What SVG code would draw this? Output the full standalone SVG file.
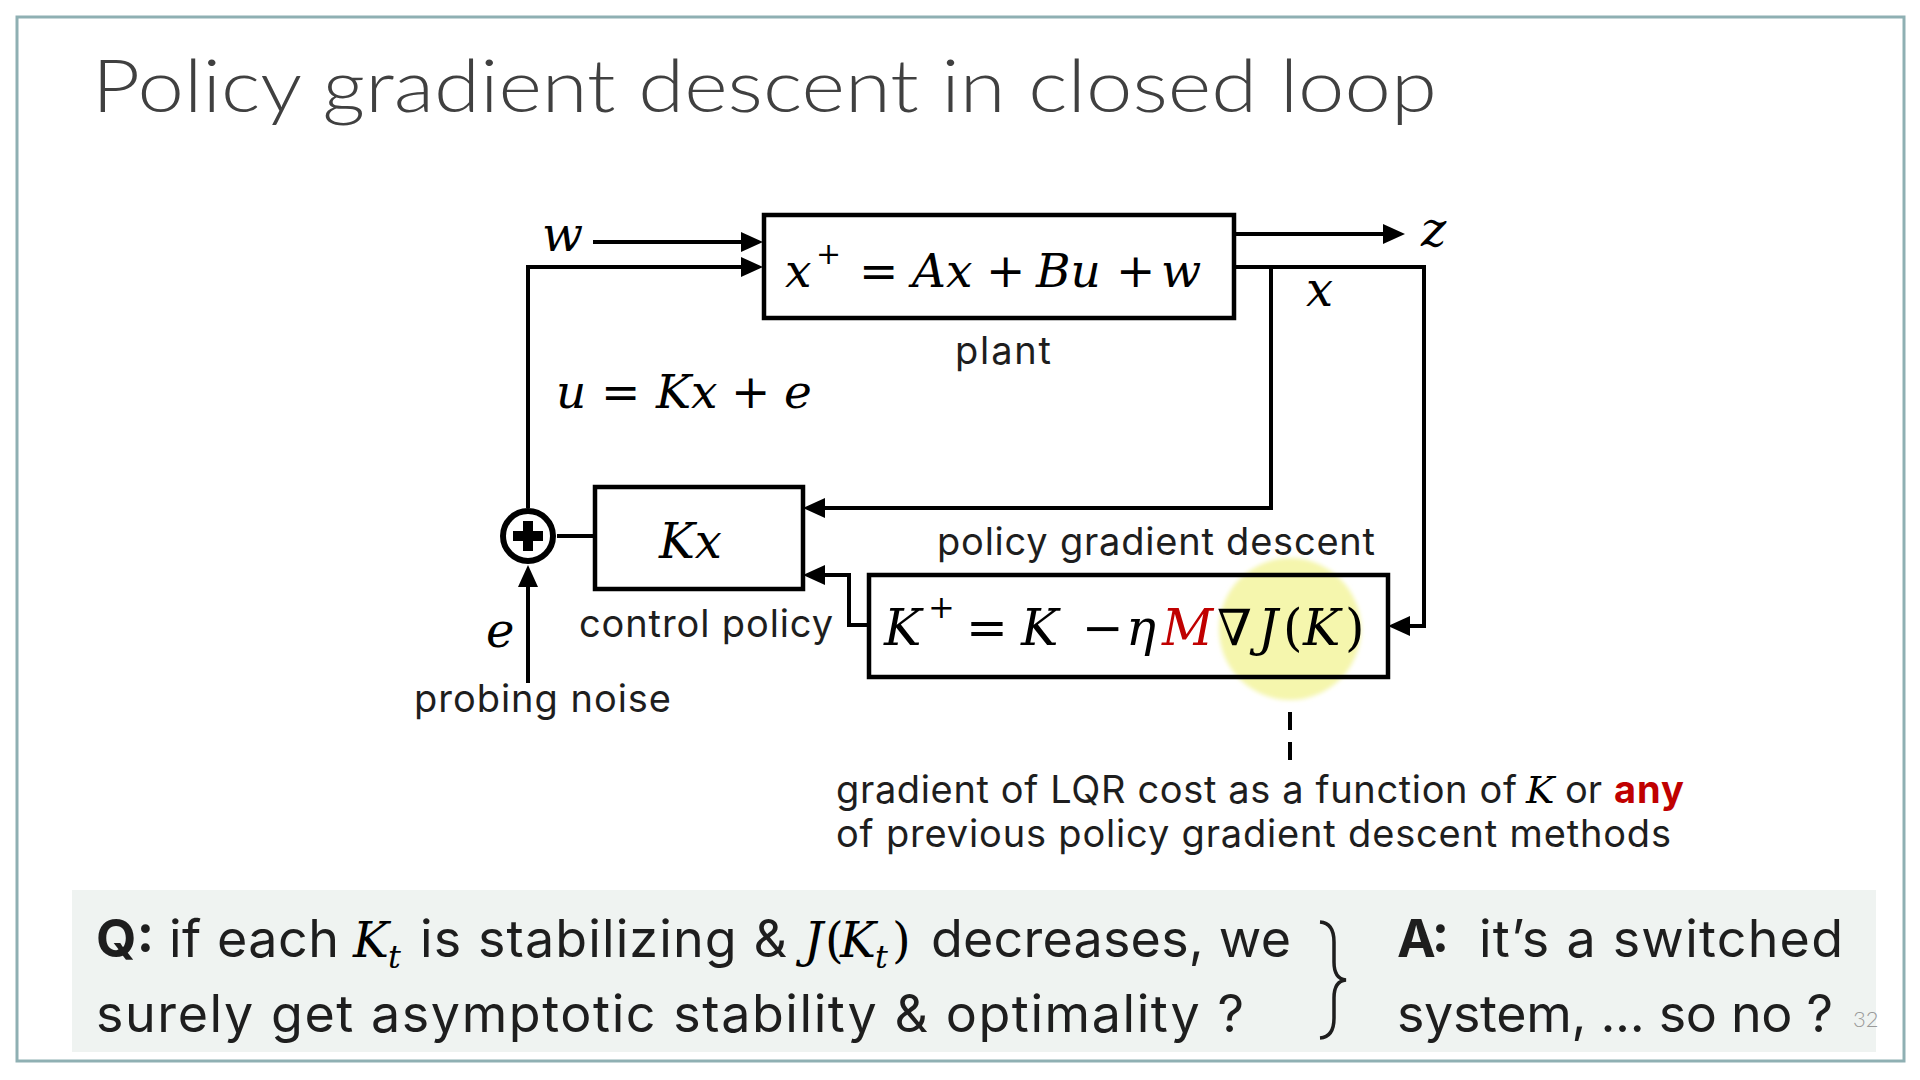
<svg xmlns="http://www.w3.org/2000/svg" width="1920" height="1080" viewBox="0 0 1920 1080">
<defs>
<style>
.s{font-family:Inter,"Open Sans","DejaVu Sans",sans-serif;fill:#1e1e1e}
.t{font-family:Lato,Inter,"Open Sans",sans-serif;font-weight:300;fill:#404040}
.m{font-family:"DejaVu Serif","Liberation Serif",serif;font-style:italic;fill:#000}
.o{font-family:"DejaVu Serif","Liberation Serif",serif;font-style:normal;fill:#000}
.b{font-weight:700}
.red{fill:#c00000}
.ln{fill:none;stroke:#000;stroke-width:4}
.box{fill:none;stroke:#000;stroke-width:4.5}
</style>
<marker id="ah" markerWidth="24" markerHeight="22" refX="1" refY="10" orient="auto" markerUnits="userSpaceOnUse">
<path d="M0,0 L22,10 L0,20 z" fill="#000"/>
</marker>
<filter id="soft" x="-20%" y="-20%" width="140%" height="140%"><feGaussianBlur stdDeviation="2"/></filter>
</defs>
<rect x="0" y="0" width="1920" height="1080" fill="#fff"/>
<rect x="17" y="17" width="1887" height="1044" fill="#fff" stroke="#8fb0b3" stroke-width="3"/>
<text class="t" x="92" y="112" font-size="72" textLength="1345" lengthAdjust="spacingAndGlyphs">Policy gradient descent in closed loop</text>

<g id="highlight">
<circle cx="1290" cy="629" r="71" fill="#f5f6ad" filter="url(#soft)"/>
</g>

<g id="connectors">
<path class="ln" d="M593,242 H742" marker-end="url(#ah)"/>
<path class="ln" d="M528,508 V267 H742" marker-end="url(#ah)"/>
<path class="ln" d="M557,536 H595"/>
<path class="ln" d="M528,683 V586" marker-end="url(#ah)"/>
<path class="ln" d="M1234,234 H1384" marker-end="url(#ah)"/>
<path class="ln" d="M1234,267 H1424 V626 H1409" marker-end="url(#ah)"/>
<path class="ln" d="M1271,267 V508 H824" marker-end="url(#ah)"/>
<path class="ln" d="M869,625 H849 V575 H824" marker-end="url(#ah)"/>
<path class="ln" d="M1290,712 V760" stroke-dasharray="18 12"/>
</g>

<g id="plant">
<rect class="box" x="764" y="215" width="470" height="103"/>
<text y="287" font-size="47"><tspan class="m" x="785">x</tspan><tspan class="o" x="816" y="264" font-size="30">+</tspan><tspan class="o" x="859" y="287">=</tspan><tspan class="m" x="912">Ax</tspan><tspan class="o" x="986">+</tspan><tspan class="m" x="1036">Bu</tspan><tspan class="o" x="1116">+</tspan><tspan class="m" x="1161">w</tspan></text>
<text class="s" x="955" y="364" font-size="38" textLength="96">plant</text>
</g>

<g id="controller">
<rect class="box" x="595" y="487" width="208" height="102"/>
<text class="m" x="659" y="558" font-size="48">Kx</text>
<text class="s" x="579" y="637" font-size="38" textLength="254">control policy</text>
</g>

<g id="sum">
<circle cx="528" cy="536" r="25" fill="#fff" stroke="#000" stroke-width="6"/>
<rect x="513" y="531" width="30" height="10" fill="#000"/>
<rect x="523" y="521" width="10" height="30" fill="#000"/>
</g>

<g id="pgd">
<rect class="box" x="869" y="575" width="519" height="102"/>
<text y="645" font-size="50"><tspan class="m" x="884">K</tspan><tspan class="o" x="928" y="618" font-size="32">+</tspan><tspan class="o" x="966" y="645">=</tspan><tspan class="m" x="1021">K</tspan><tspan class="o" x="1082">−</tspan><tspan class="m" x="1126">η</tspan><tspan class="m red" x="1162">M</tspan><tspan class="o" x="1217">∇</tspan><tspan class="m" x="1258">J</tspan><tspan class="o" x="1283">(</tspan><tspan class="m" x="1303">K</tspan><tspan class="o" x="1345">)</tspan></text>
<text class="s" x="937" y="555" font-size="38" textLength="438">policy gradient descent</text>
</g>

<g id="labels">
<text class="m" x="542" y="251" font-size="48">w</text>
<text class="m" x="1421" y="246" font-size="48">z</text>
<text class="m" x="1306" y="306" font-size="48">x</text>
<text class="m" x="486" y="647" font-size="48">e</text>
<text class="s" x="414" y="712" font-size="38" textLength="257">probing noise</text>
<text y="408" font-size="47"><tspan class="m" x="556">u</tspan><tspan class="o" x="601">=</tspan><tspan class="m" x="656">Kx</tspan><tspan class="o" x="731">+</tspan><tspan class="m" x="784">e</tspan></text>
</g>

<g id="annotation">
<text y="803" font-size="38"><tspan class="s" x="836" textLength="681">gradient of LQR cost as a function of</tspan><tspan class="m" x="1526" font-size="38">K</tspan><tspan class="s" x="1565" textLength="37">or</tspan><tspan class="s b red" x="1614" textLength="70">any</tspan></text>
<text class="s" x="836" y="847" font-size="38" textLength="835">of previous policy gradient descent methods</text>
</g>

<g id="qa">
<rect x="72" y="890" width="1804" height="162" fill="#eff3f1"/>
<text y="957" font-size="52"><tspan class="s b" x="96" textLength="58">Q:</tspan><tspan class="s" x="169" textLength="170">if each</tspan><tspan class="m" x="353" font-size="48">K</tspan><tspan class="m" x="388" y="968" font-size="32">t</tspan><tspan class="s" x="420" y="957" textLength="367">is stabilizing &amp;</tspan><tspan class="m" x="804" font-size="48">J</tspan><tspan class="o" x="825" font-size="48">(</tspan><tspan class="m" x="840" font-size="48">K</tspan><tspan class="m" x="875" y="968" font-size="32">t</tspan><tspan class="o" x="892" y="957" font-size="48">)</tspan><tspan class="s" x="931" textLength="360">decreases, we</tspan></text>
<text class="s" x="96" y="1032" font-size="52" textLength="1148">surely get asymptotic stability &amp; optimality ?</text>
<path d="M1320,922 Q1334,923 1334,942 L1334,962 Q1334,979 1346,980 Q1334,981 1334,998 L1334,1018 Q1334,1037 1320,1038" fill="none" stroke="#1e1e1e" stroke-width="3.5"/>
<text y="957" font-size="52"><tspan class="s b" x="1397" textLength="52">A:</tspan><tspan class="s" x="1479" textLength="364">it’s a switched</tspan></text>
<text class="s" x="1397" y="1032" font-size="52" textLength="436">system, ... so no ?</text>
<text x="1853" y="1027" font-size="22" font-family="Lato,Inter,sans-serif" font-weight="300" fill="#9a9a9a">32</text>
</g>
</svg>
